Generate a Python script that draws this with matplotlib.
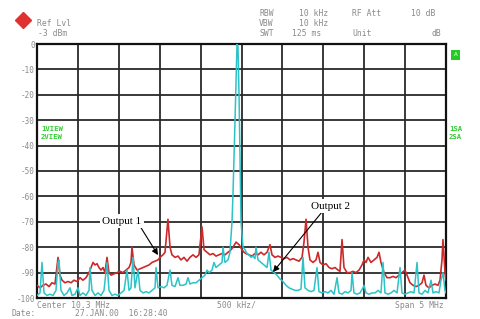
import matplotlib
matplotlib.use("Agg")
import matplotlib.pyplot as plt
import numpy as np

# ---------------- data ----------------
# frequency axis (MHz)
center_mhz = 10.3
span_mhz = 5.0
f_start, f_stop = 7.8, 12.8
grid_freqs = [7.8, 8.3, 8.8, 9.3, 9.8, 10.3, 10.8, 11.3, 11.8, 12.3, 12.8]
level_ticks = [0, -10, -20, -30, -40, -50, -60, -70, -80, -90, -100]
level_labels = ["0", "-10", "-20", "-30", "-40", "-50", "-60", "-70", "-80", "-90", "-100"]

# Output 1 (red trace)
red_freq = [7.800, 7.837, 7.873, 7.910, 7.947, 7.983, 8.020, 8.057, 8.081, 8.106,
            8.142, 8.179, 8.216, 8.252, 8.289, 8.326, 8.362, 8.399, 8.436, 8.460,
            8.485, 8.509, 8.534, 8.558, 8.582, 8.607, 8.631, 8.656, 8.680, 8.705,
            8.741, 8.778, 8.815, 8.851, 8.888, 8.925, 8.949, 8.961, 8.986, 9.023,
            9.059, 9.096, 9.133, 9.169, 9.206, 9.243, 9.279, 9.304, 9.340, 9.365,
            9.401, 9.426, 9.450, 9.487, 9.524, 9.560, 9.597, 9.634, 9.670, 9.707,
            9.744, 9.780, 9.817, 9.842, 9.878, 9.915, 9.952, 9.988, 10.025, 10.062,
            10.098, 10.135, 10.172, 10.196, 10.233, 10.270, 10.306, 10.331, 10.355, 10.392,
            10.428, 10.465, 10.502, 10.538, 10.575, 10.612, 10.648, 10.673, 10.709, 10.746,
            10.783, 10.820, 10.856, 10.893, 10.930, 10.966, 11.003, 11.040, 11.064, 11.089,
            11.113, 11.137, 11.174, 11.211, 11.235, 11.260, 11.296, 11.333, 11.370, 11.406,
            11.443, 11.480, 11.504, 11.529, 11.553, 11.590, 11.626, 11.663, 11.700, 11.737,
            11.773, 11.798, 11.822, 11.847, 11.883, 11.920, 11.957, 11.981, 12.005, 12.042,
            12.079, 12.115, 12.152, 12.189, 12.225, 12.262, 12.299, 12.323, 12.360, 12.397,
            12.433, 12.470, 12.507, 12.531, 12.555, 12.592, 12.629, 12.666, 12.702, 12.727,
            12.751, 12.763, 12.788, 12.800]
red_level = [-95, -96, -95, -94.5, -95.5, -94, -94.5, -84, -91, -93,
             -94, -93.5, -94, -93, -93.5, -92, -93, -92, -90, -88,
             -86, -87, -86.5, -88, -89, -88, -90, -84, -90, -91,
             -90.5, -90, -89.5, -90, -89, -88, -86, -80, -87, -89,
             -88.5, -88, -87.5, -87, -86, -85.5, -85, -84, -83, -82,
             -69, -80, -83, -84, -83.5, -85, -84, -85.5, -84, -83,
             -84, -83, -72, -81, -82, -83, -82.5, -83.5, -83, -82.5,
             -83, -82, -81, -80, -78, -79, -81, -82, -82.5, -83,
             -83.5, -82.5, -83, -82, -83, -82, -79, -83, -84, -83.5,
             -84, -84.5, -84, -85, -84.5, -85, -85.5, -84, -78, -69,
             -80, -85, -86, -85, -82, -86, -87, -86.5, -88, -88.5,
             -88, -89, -89.5, -77, -88, -90, -90, -89.5, -90, -89,
             -87, -85, -86, -84, -86, -85, -84, -82, -86, -90,
             -92, -92, -91.5, -92, -91, -90, -89, -91, -94, -95,
             -95.5, -95, -94, -91, -95, -96, -95, -94.5, -95, -93,
             -85, -77, -90, -93]

# Output 2 (cyan trace)
cyan_freq = [7.800, 7.837, 7.861, 7.886, 7.922, 7.959, 7.996, 8.032, 8.057, 8.069,
             8.093, 8.130, 8.167, 8.203, 8.228, 8.265, 8.301, 8.326, 8.362, 8.399,
             8.436, 8.448, 8.472, 8.509, 8.546, 8.582, 8.619, 8.656, 8.680, 8.717,
             8.754, 8.790, 8.827, 8.864, 8.900, 8.925, 8.949, 8.974, 8.998, 9.035,
             9.059, 9.096, 9.133, 9.169, 9.206, 9.243, 9.255, 9.279, 9.316, 9.353,
             9.389, 9.426, 9.450, 9.487, 9.524, 9.548, 9.585, 9.622, 9.646, 9.670,
             9.707, 9.744, 9.780, 9.817, 9.854, 9.878, 9.903, 9.939, 9.964, 9.988,
             10.025, 10.062, 10.074, 10.098, 10.135, 10.159, 10.184, 10.196, 10.221, 10.245,
             10.257, 10.270, 10.282, 10.294, 10.318, 10.343, 10.367, 10.392, 10.416, 10.441,
             10.465, 10.477, 10.502, 10.538, 10.575, 10.612, 10.636, 10.661, 10.697, 10.734,
             10.771, 10.807, 10.844, 10.881, 10.917, 10.954, 10.991, 11.027, 11.052, 11.076,
             11.113, 11.150, 11.186, 11.223, 11.247, 11.284, 11.321, 11.358, 11.394, 11.431,
             11.468, 11.492, 11.529, 11.566, 11.602, 11.639, 11.651, 11.675, 11.712, 11.749,
             11.785, 11.798, 11.822, 11.859, 11.896, 11.932, 11.969, 12.005, 12.030, 12.054,
             12.091, 12.128, 12.164, 12.201, 12.238, 12.262, 12.299, 12.335, 12.372, 12.409,
             12.446, 12.470, 12.507, 12.543, 12.580, 12.617, 12.641, 12.678, 12.714, 12.739,
             12.763, 12.788, 12.800]
cyan_level = [-99, -98, -86, -98, -99, -98.5, -99, -97, -86, -85,
              -97, -99, -98, -96, -99, -98.5, -96, -99, -98, -99,
              -97, -88, -97, -99, -98, -99, -97, -86, -97, -99,
              -98.5, -99, -98, -97, -89, -97, -96, -84, -96, -89,
              -97, -98, -97.5, -98, -97, -96, -88, -96, -95.5, -96,
              -95, -89, -95, -95.5, -92, -95, -95, -94.5, -92, -94.5,
              -94, -94, -93, -92, -91, -89, -90, -89, -86, -88,
              -87, -86, -80, -86, -85, -82, -70, -59, -30, 0,
              -1, -20, -45, -70, -80, -81, -82.5, -83, -84, -83.5,
              -84.5, -80, -85, -86, -87, -88, -82, -89, -90, -91,
              -92.5, -93.5, -95, -96, -96.5, -97, -97, -96.5, -84, -96,
              -97, -97.5, -97, -88, -97.5, -98, -97.5, -98, -97, -98.5,
              -92, -98, -98.5, -97.5, -98, -97, -90, -98, -98.5, -98,
              -96, -95, -98, -98.5, -98, -98, -97, -98, -86, -98,
              -98.5, -98, -97, -98, -88, -98, -98.5, -98, -97.5, -98,
              -86, -98, -98.5, -97, -98, -93, -98, -97.5, -98, -93,
              -90, -97, -98]

# ---------------- figure ----------------
W, H = 480, 319
fig = plt.figure(figsize=(W / 100, H / 100), dpi=100)
fig.patch.set_facecolor("white")


def fx(px):
    return px / W


def fy(py):
    return 1 - py / H


ax = fig.add_axes([fx(37), fy(298), (446 - 37) / W, (298 - 44) / H])
ax.set_xlim(f_start, f_stop)
ax.set_ylim(-100, 0)

ax.set_xticks(grid_freqs)
ax.set_xticklabels([])
ax.set_yticks(level_ticks)
ax.set_yticklabels(level_labels, fontsize=5.5, color="#8a8a8a", family="DejaVu Sans Mono")
ax.tick_params(axis="both", length=0, pad=1.5)
ax.grid(True, color="#2a2a2a", lw=1.3)
ax.set_axisbelow(True)
for s in ax.spines.values():
    s.set_color("#111111")
    s.set_linewidth(1.6)

ax.plot(red_freq, red_level, color="#cc2a2a", lw=1.2, zorder=3)
ax.plot(cyan_freq, cyan_level, color="#2cc3c8", lw=1.1, zorder=4)

# annotations
ax.annotate("Output 1", xy=(9.279, -83.1), xytext=(8.839, -69.7),
            ha="center", va="center", fontsize=8, family="Liberation Serif",
            bbox=dict(fc="white", ec="none", pad=1.5),
            arrowprops=dict(arrowstyle="-|>", color="black", lw=0.8,
                            mutation_scale=9, relpos=(0.95, 0.0), shrinkA=0, shrinkB=0),
            zorder=6)
ax.annotate("Output 2", xy=(10.685, -89.8), xytext=(11.394, -63.8),
            ha="center", va="center", fontsize=8, family="Liberation Serif",
            bbox=dict(fc="white", ec="none", pad=1.5),
            arrowprops=dict(arrowstyle="-|>", color="black", lw=0.8,
                            mutation_scale=9, relpos=(0.3, 0.0), shrinkA=0, shrinkB=0),
            zorder=6)

# instrument header texts
gray = "#8a8a8a"
mono = dict(family="DejaVu Sans Mono", color=gray, fontsize=5.8, va="center", ha="left")
fig.text(fx(37), fy(24), "Ref Lvl", **mono)
fig.text(fx(38), fy(34), "-3 dBm", **mono)
fig.text(fx(259), fy(14), "RBW", **mono)
fig.text(fx(299), fy(14), "10 kHz", **mono)
fig.text(fx(352), fy(14), "RF Att", **mono)
fig.text(fx(411), fy(14), "10 dB", **mono)
fig.text(fx(259), fy(24), "VBW", **mono)
fig.text(fx(299), fy(24), "10 kHz", **mono)
fig.text(fx(259), fy(34), "SWT", **mono)
fig.text(fx(292), fy(34), "125 ms", **mono)
fig.text(fx(352), fy(34), "Unit", **mono)
fig.text(fx(432), fy(34), "dB", **mono)

fig.text(fx(37), fy(305), "Center 10.3 MHz", **mono)
fig.text(fx(217), fy(305), "500 kHz/", **mono)
fig.text(fx(444), fy(305), "Span 5 MHz", **{**mono, "ha": "right"})
fig.text(fx(12), fy(314), "Date:", **mono)
fig.text(fx(75), fy(314), "27.JAN.00  16:28:40", **mono)

green = dict(family="DejaVu Sans Mono", color="#33cc33", fontsize=5.2, va="center",
             ha="left", fontweight="bold")
fig.text(fx(41), fy(129), "1VIEW", **green)
fig.text(fx(41), fy(137), "2VIEW", **green)
fig.text(fx(449), fy(129), "1SA", **green)
fig.text(fx(449), fy(137), "2SA", **green)
fig.text(fx(455.5), fy(55), "A", family="DejaVu Sans Mono", color="white", fontsize=4.5,
         ha="center", va="center",
         bbox=dict(fc="#22cc22", ec="none", boxstyle="square,pad=0.35"))

# logo (red diamonds)
for dx, dy in [(0, -4), (-4, 0), (4, 0), (0, 4)]:
    ax.plot([fx(23 + dx)], [fy(20 + dy)], marker="D", ms=4.2, color="#e03030",
            mec="#e03030", transform=fig.transFigure, clip_on=False)

fig.savefig("out.png", dpi=100, facecolor="white")
